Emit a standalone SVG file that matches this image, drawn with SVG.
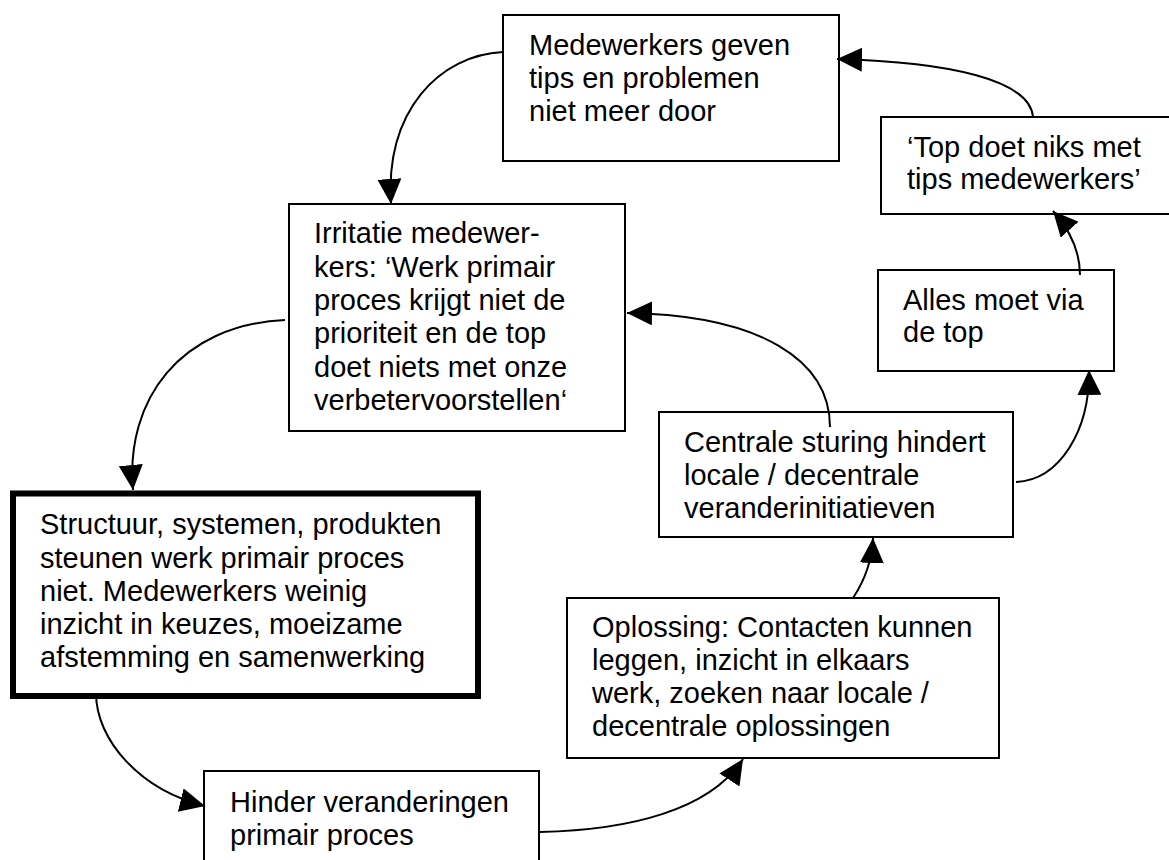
<svg xmlns="http://www.w3.org/2000/svg" width="1169" height="860" viewBox="0 0 1169 860">
  <style>
    .box { fill: #ffffff; stroke: #000000; stroke-width: 2; }
    .box-main { fill: #ffffff; stroke: #000000; stroke-width: 6; }
    .label { font-family: "Liberation Sans", Arial, Helvetica, sans-serif; font-size: 29px; fill: #000000; }
    .link { fill: none; stroke: #000000; stroke-width: 2; marker-end: url(#arrow); }
  </style>
  <defs>
    <marker id="arrow" markerUnits="userSpaceOnUse" markerWidth="26" markerHeight="24" refX="25" refY="12" orient="auto">
      <path d="M0,0 L25,12 L0,24 z" fill="#000000"/>
    </marker>
  </defs>
  <rect width="1169" height="860" fill="#ffffff"/>

  <g id="node-medewerkers">
    <rect class="box" x="503" y="15" width="336" height="146"/>
    <text class="label" x="529" y="55">Medewerkers geven</text>
    <text class="label" x="529" y="88">tips en problemen</text>
    <text class="label" x="529" y="121">niet meer door</text>
  </g>

  <g id="node-irritatie">
    <rect class="box" x="289" y="204" width="336" height="227"/>
    <text class="label" x="314" y="243">Irritatie medewer-</text>
    <text class="label" x="314" y="277">kers: ‘Werk primair</text>
    <text class="label" x="314" y="310">proces krijgt niet de</text>
    <text class="label" x="314" y="343">prioriteit en de top</text>
    <text class="label" x="314" y="377">doet niets met onze</text>
    <text class="label" x="314" y="410">verbetervoorstellen‘</text>
  </g>

  <g id="node-structuur">
    <rect class="box-main" x="13" y="493.5" width="465" height="202.5"/>
    <text class="label" x="40" y="534">Structuur, systemen, produkten</text>
    <text class="label" x="40" y="568">steunen werk primair proces</text>
    <text class="label" x="40" y="601">niet. Medewerkers weinig</text>
    <text class="label" x="40" y="634">inzicht in keuzes, moeizame</text>
    <text class="label" x="40" y="667">afstemming en samenwerking</text>
  </g>

  <g id="node-hinder">
    <rect class="box" x="204" y="771" width="335" height="120"/>
    <text class="label" x="230" y="812">Hinder veranderingen</text>
    <text class="label" x="230" y="845">primair proces</text>
  </g>

  <g id="node-oplossing">
    <rect class="box" x="567" y="598" width="432" height="160"/>
    <text class="label" x="592" y="637">Oplossing: Contacten kunnen</text>
    <text class="label" x="592" y="670">leggen, inzicht in elkaars</text>
    <text class="label" x="592" y="703">werk, zoeken naar locale /</text>
    <text class="label" x="592" y="736">decentrale oplossingen</text>
  </g>

  <g id="node-centrale">
    <rect class="box" x="659" y="412" width="354" height="125"/>
    <text class="label" x="684" y="452">Centrale sturing hindert</text>
    <text class="label" x="684" y="485">locale / decentrale</text>
    <text class="label" x="684" y="518">veranderinitiatieven</text>
  </g>

  <g id="node-alles">
    <rect class="box" x="878" y="270" width="236" height="101"/>
    <text class="label" x="903" y="310">Alles moet via</text>
    <text class="label" x="903" y="342">de top</text>
  </g>

  <g id="node-top">
    <rect class="box" x="881" y="117" width="300" height="97"/>
    <text class="label" x="907" y="157">‘Top doet niks met</text>
    <text class="label" x="907" y="189">tips medewerkers’</text>
  </g>

  <g id="connectors">
    <path class="link" d="M1033,117 C1030,80 950,62 837,59"/>
    <path class="link" d="M503,52 C440,55 385,110 391,204"/>
    <path class="link" d="M285,320 C180,325 125,400 133,490"/>
    <path class="link" d="M96,693 C96,740 140,790 205,806"/>
    <path class="link" d="M540,832 C630,830 710,810 743,759"/>
    <path class="link" d="M853,598 C865,580 872,560 873,538"/>
    <path class="link" d="M1016,482 C1060,480 1090,430 1089,370"/>
    <path class="link" d="M1080,275 C1080,250 1070,230 1053,211"/>
    <path class="link" d="M830,427 C830,360 760,315 627,313"/>
  </g>
</svg>
